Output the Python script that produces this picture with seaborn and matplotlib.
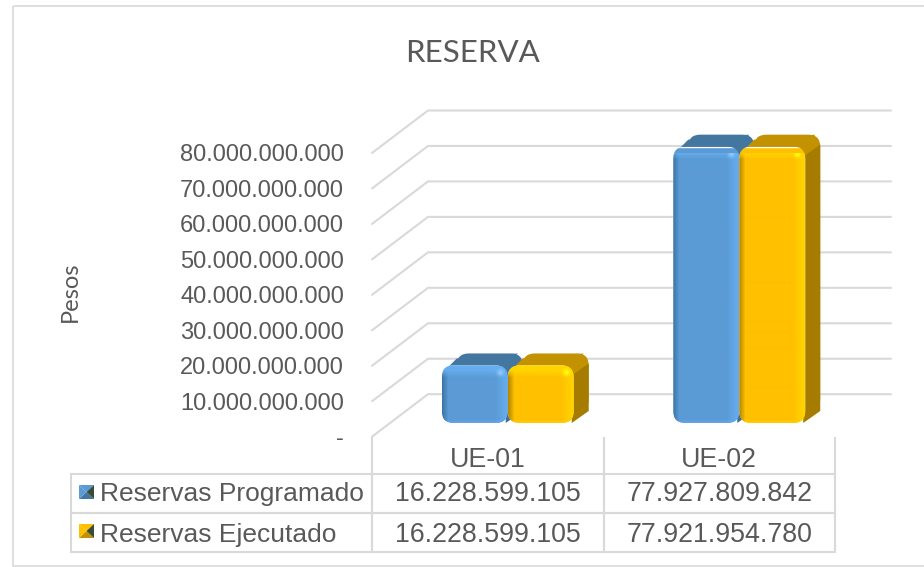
import matplotlib
matplotlib.use('Agg')
import matplotlib.pyplot as plt
import matplotlib.transforms as mtransforms
from matplotlib.colors import to_rgb
from matplotlib.patches import FancyBboxPatch, Polygon, Rectangle
from matplotlib.table import Table
import numpy as np
import pandas as pd
import seaborn as sns

categories = ['UE-01', 'UE-02']
programado = [16228599105, 77927809842]
ejecutado = [16228599105, 77921954780]
series_names = ['Reservas Programado', 'Reservas Ejecutado']
y_ticks = [0, 10e9, 20e9, 30e9, 40e9, 50e9, 60e9, 70e9, 80e9]
y_labels = ['-', '10.000.000.000', '20.000.000.000', '30.000.000.000', '40.000.000.000',
            '50.000.000.000', '60.000.000.000', '70.000.000.000', '80.000.000.000']

W, H = 924, 567
TXT = '#595959'
GRID = '#D9D9D9'

# front, light, dark, top, side, highlight
blue = ['#5B9BD5', '#66ADEF', '#3F75A6', '#44779F', '#3F6F98', '#8FCBFF']
gold = ['#FFC000', '#FFD500', '#B58800', '#C29200', '#A67C00', '#FFFF10']

sns.set_theme(style='white')
plt.rcParams['font.family'] = ['Liberation Sans', 'DejaVu Sans']

fig = plt.figure(figsize=(W / 100, H / 100), dpi=100)
px = mtransforms.Affine2D().scale(1, -1).translate(0, H)

# axes = front plane of the chart box
left, right, top, bottom = 372, 835, 153, 436.7
ax = fig.add_axes([left / W, 1 - bottom / H, (right - left) / W, (bottom - top) / H])

df = pd.DataFrame({
    'cat': categories * 2,
    'serie': [series_names[0]] * 2 + [series_names[1]] * 2,
    'valor': programado + ejecutado,
})
sns.barplot(data=df, x='cat', y='valor', hue='serie', palette=[blue[0], gold[0]],
            width=0.57, gap=0, saturation=1, legend=False, ax=ax, zorder=5)

ax.set_xlim(-0.5, 1.5)
ax.set_ylim(0, 80e9)
ax.autoscale(False)
sx = 2 / (right - left)   # data per pixel
sy = 80e9 / (bottom - top)

# 3d walls
for v in y_ticks:
    ax.plot([-0.5, -0.5 + 56 * sx, -0.5 + 519 * sx], [v, v + 42.5 * sy, v + 42.5 * sy],
            color=GRID, lw=1.5, clip_on=False, zorder=1)


def draw_bar(rect, cols, zo):
    # moves bar to its place in depth, adds the faces
    rect.set_x(rect.get_x() + 20 * sx)
    rect.set_y(13.7 * sy)
    x0, x1 = rect.get_x(), rect.get_x() + rect.get_width()
    y0, y1 = rect.get_y(), rect.get_y() + rect.get_height()
    dx, dy = 15 * sx, 12 * sy
    r = 12 * sx
    box = FancyBboxPatch((x0, y0), x1 - x0, y1 - y0, boxstyle=f'round,pad=0,rounding_size={r}',
                         mutation_aspect=sy / sx, transform=ax.transData)
    back = FancyBboxPatch((x0 + dx, y0 + dy), x1 - x0, y1 - y0,
                          boxstyle=f'round,pad=0,rounding_size={r}', mutation_aspect=sy / sx,
                          fc=cols[3], ec='none', zorder=zo - 0.3, clip_on=False)
    ax.add_patch(back)
    ax.add_patch(Polygon([(x0 + 2 * sx, y1 - 6 * sy), (x0 + dx, y1 + dy - 5 * sy),
                          (x1 + dx - 5 * sx, y1 + dy), (x1, y1)],
                         fc=cols[3], ec='none', zorder=zo - 0.2, clip_on=False))
    ax.add_patch(Polygon([(x1 - 2 * sx, y0), (x1 + dx, y0 + dy), (x1 + dx, y1 + dy - 10 * sy),
                          (x1 - 2 * sx, y1 - 10 * sy)],
                         fc=cols[4], ec='none', zorder=zo - 0.1, clip_on=False))
    rect.set_zorder(zo)
    rect.set_clip_path(box)
    rect.set_clip_box(None)

    # bevel, painted pixel by pixel over the bar
    hh = int(round((y1 - y0) / sy))
    ww = int(round((x1 - x0) / sx))
    img = np.ones((hh, ww, 3)) * to_rgb(cols[0])
    light, dark = np.array(to_rgb(cols[1])), np.array(to_rgb(cols[2]))
    for i in range(12):
        t = 1 - i / 12
        img[:, ww - 1 - i] = img[:, ww - 1 - i] * (1 - t) + light * t
    for i in range(6):
        t = 1 - i / 6
        img[:, i] = img[:, i] * (1 - t) + dark * t
    for i in range(min(12, hh)):
        t = min(1, 1.6 * (1 - i / 12))
        img[hh - 1 - i, :] = img[hh - 1 - i, :] * (1 - t) + light * t
    for i in range(3):
        t = 0.6 * (1 - i / 3)
        img[i, :] = img[i, :] * (1 - t) + light * t
    # soft shine near the top right corner
    yy, xx = np.mgrid[0:hh, 0:ww]
    shine = np.exp(-((xx - (ww - 8)) ** 2 + (yy - (hh - 8)) ** 2) / 10.0)[:, :, None]
    img = img * (1 - shine) + np.array(to_rgb(cols[5])) * shine
    im = ax.imshow(img, extent=(x0, x1, y0, y1), origin='lower', aspect='auto',
                   interpolation='bilinear', zorder=zo + 0.1)
    im.set_clip_path(box)
    im.set_clip_box(None)


for i, rect in enumerate(ax.patches[:4]):
    draw_bar(rect, blue if i < 2 else gold, 5 if i < 2 else 6)
ax.set_xlim(-0.5, 1.5)
ax.set_ylim(0, 80e9)

ax.set_yticks(y_ticks)
ax.set_yticklabels(y_labels, fontsize=17, color=TXT)
ax.tick_params(axis='y', length=0, pad=20)
ax.set_xticks([])
ax.set_xlabel('')
ax.set_ylabel('Pesos', fontsize=17, color=TXT, family='Lato')
ax.yaxis.set_label_coords((81 - left) / (right - left), (bottom - 292) / (bottom - top))
sns.despine(ax=ax, left=True, bottom=True)
ax.patch.set_visible(False)


# data table under the bars
def fmt(v):
    return f'{v:,}'.replace(',', '.')


col_w = [301, 231.5, 231.5]
row_h = [37, 39, 39]
text_shift = [-5, -1, -3]
tb = Table(ax, bbox=[(71 - left) / (right - left), (bottom - 552) / (bottom - top),
                     (right - 71) / (right - left), 115.3 / (bottom - top)])
rows = [['', categories[0], categories[1]],
        [series_names[0], fmt(programado[0]), fmt(programado[1])],
        [series_names[1], fmt(ejecutado[0]), fmt(ejecutado[1])]]
for r, row in enumerate(rows):
    for c, s in enumerate(row):
        cell = tb.add_cell(r, c, col_w[c], row_h[r], text=s, loc='left' if c == 0 else 'center',
                           edgecolor=GRID, facecolor='none')
        cell.set_linewidth(1.5)
        cell.get_text().set_color(TXT)
        cell.get_text().set_transform(mtransforms.Affine2D().translate(0, text_shift[r]))
        if c == 0:
            cell.PAD = 29 / 301
        if r == 0:
            cell.visible_edges = 'open' if c == 0 else 'LR'
tb.auto_set_font_size(False)
tb.set_fontsize(19.3)
tb[(1, 0)].get_text().set_fontsize(19)
tb[(2, 0)].get_text().set_fontsize(19)
ax.add_table(tb)

# little legend keys
for y, cols in [(492, blue), (531, gold)]:
    x0, x1, y0, y1 = 79, 94, y - 7, y + 7
    xm, ym = (x0 + x1) / 2, (y0 + y1) / 2
    fig.add_artist(Polygon([(x0, y1), (x1, y1), (xm, ym)], fc=cols[3], ec='none', transform=px))
    fig.add_artist(Polygon([(x0, y0), (x1, y0), (xm, ym)], fc=cols[0], ec='none', transform=px))
    fig.add_artist(Polygon([(x0, y0), (x0, y1), (xm, ym)], fc=cols[0], ec='none', transform=px))
    fig.add_artist(Polygon([(x1, y0), (x1, y1), (xm, ym)], fc='#3a4a3a', ec='none', transform=px))

fig.text(473 / W, 1 - 53 / H, 'RESERVA', fontsize=22.5, color=TXT, family='Lato', ha='center', va='center')

# chart border
fig.add_artist(Rectangle((13, 5.5), W, H - 7, fc='none', ec=GRID, lw=1.2, transform=px))

fig.savefig('out.png', dpi=100, facecolor='white')
